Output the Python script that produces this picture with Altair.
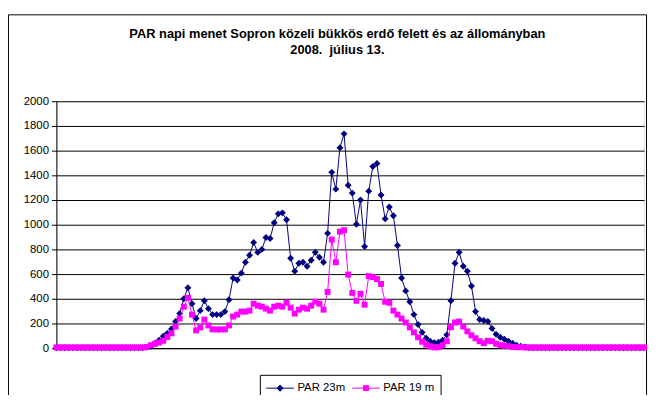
import altair as alt
import pandas as pd

series_names = ["PAR 23m", "PAR 19 m"]
series_colors = ["#000080", "#FF00FF"]
y_ticks = [0, 200, 400, 600, 800, 1000, 1200, 1400, 1600, 1800, 2000]

# PAR 23m (above canopy), 10-minute readings through the day
par23 = [3] * 22 + [
    8, 15, 40, 64, 96, 120, 155, 216, 280, 400,
    490, 360, 240, 304, 384, 320, 272, 272, 272, 296,
    392, 568, 552, 608, 696, 752, 856, 776, 800, 896,
    888, 1016, 1088, 1096, 1040, 728, 624, 688, 696, 664,
    712, 776, 736, 696, 930, 1424, 1288, 1624, 1736, 1320,
    1256, 1004, 1200, 824, 1272, 1472, 1496, 1240, 1048, 1144,
    1072, 832, 568, 464, 376, 272, 192, 128, 80, 56,
    44, 48, 64, 108, 384, 688, 776, 664, 624, 504,
    296, 232, 224, 216, 160, 112, 88, 72, 56, 40,
    24, 16, 10,
] + [3] * 29

# PAR 19 m (inside the stand)
par19 = [6] * 22 + [
    10, 24, 35, 45, 60, 90, 120, 175, 240, 336,
    408, 272, 144, 168, 232, 184, 152, 152, 152, 152,
    184, 256, 272, 296, 296, 304, 360, 344, 336, 320,
    304, 336, 344, 336, 368, 328, 280, 312, 328, 320,
    344, 376, 360, 312, 456, 880, 696, 944, 956, 596,
    448, 384, 440, 352, 584, 576, 560, 520, 376, 368,
    304, 272, 240, 208, 168, 128, 88, 52, 28, 14,
    6, 8, 24, 56, 170, 208, 216, 176, 136, 104,
    80, 56, 40, 60, 56, 36, 24, 20, 16, 10,
    8, 8, 6,
] + [6] * 29

n = len(par23)
df = pd.DataFrame({
    "i": list(range(n)) * 2,
    "value": par23 + par19,
    "series": [series_names[0]] * n + [series_names[1]] * n,
})
leg_df = pd.DataFrame({"i": [0, 0], "value": [0, 0], "series": series_names})
frame_df = pd.DataFrame({"k": [0]})

x_enc = alt.X("i:Q", scale=alt.Scale(domain=[0, n - 1], nice=False, zero=False),
              axis=alt.Axis(labels=False, ticks=False, grid=False, title=None,
                            domainColor="black", domainWidth=1))
y_enc = alt.Y("value:Q", scale=alt.Scale(domain=[0, 2000], nice=False),
              axis=alt.Axis(values=y_ticks, format="d", title=None, grid=True,
                            gridColor="black", gridWidth=1, gridOpacity=1,
                            domainColor="black", tickColor="black", tickSize=5,
                            labelPadding=3, labelOverlap=False,
                            labelFont="Liberation Sans", labelFontSize=11.5,
                            labelColor="black"))

base = alt.Chart(df).encode(x=x_enc, y=y_enc)

navy_line = base.transform_filter(alt.datum.series == series_names[0]).mark_line(
    color=series_colors[0], strokeWidth=1)
navy_pts = base.transform_filter(alt.datum.series == series_names[0]).mark_point(
    shape="diamond", filled=True, size=49, color=series_colors[0], opacity=1)
mag_line = base.transform_filter(alt.datum.series == series_names[1]).mark_line(
    color=series_colors[1], strokeWidth=1)
mag_pts = base.transform_filter(alt.datum.series == series_names[1]).mark_point(
    shape="square", filled=True, size=36, color=series_colors[1], opacity=1)

path_d = "M-1,0H3M1,-0.45L1.45,0L1,0.45L0.55,0Z"
path_s = "M-1,0H3M0.64,-0.36H1.36V0.36H0.64Z"

leg = alt.Legend(title=None, orient="none", legendX=206, legendY=277,
                 direction="horizontal", strokeColor="black", fillColor="white",
                 padding=6, columnPadding=4, labelFont="Liberation Sans",
                 labelFontSize=11.5, labelColor="black", labelOffset=17,
                 symbolSize=196, symbolStrokeWidth=1, symbolOpacity=1)

legend_layer = alt.Chart(leg_df).mark_point(filled=True, opacity=0, strokeWidth=1).encode(
    x=x_enc, y=y_enc,
    fill=alt.Fill("series:N", scale=alt.Scale(domain=series_names, range=series_colors), legend=leg),
    stroke=alt.Stroke("series:N", scale=alt.Scale(domain=series_names, range=series_colors), legend=leg),
    shape=alt.Shape("series:N", scale=alt.Scale(domain=series_names, range=[path_d, path_s]), legend=leg),
)

frame = alt.Chart(frame_df).mark_rect(fill=None, stroke="black", strokeWidth=1).encode(
    x=alt.value(-48.5), x2=alt.value(597.5), y=alt.value(-87.5), y2=alt.value(320))

chart = alt.layer(frame, navy_line, navy_pts, mag_line, mag_pts, legend_layer).properties(
    width=595, height=250,
    title=alt.Title(
        text=["PAR napi menet Sopron közeli bükkös erdő felett és az állományban",
              "2008.\u00a0 július 13."],
        font="Liberation Sans", fontSize=13, fontWeight="bold", color="black",
        anchor="middle", dx=-13, offset=0, dy=43, lineHeight=16),
    autosize=alt.AutoSizeParams(type="none"),
    padding={"left": 49, "top": 92, "right": 4, "bottom": 45},
).configure_view(fill="#C0C0C0", stroke="#808080", strokeWidth=1).configure(background="white")

chart.save("out.html", embed_options={"renderer": "svg", "actions": False})
